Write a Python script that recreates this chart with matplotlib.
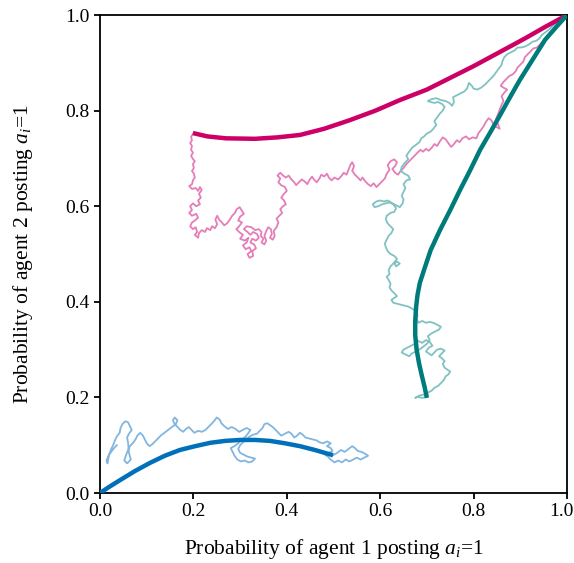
import matplotlib
matplotlib.use("Agg")
import matplotlib.pyplot as plt
import matplotlib.transforms as mtransforms
import numpy as np

plt.rcParams['font.family'] = ['Liberation Serif', 'DejaVu Serif']
plt.rcParams['mathtext.fontset'] = 'custom'
plt.rcParams['mathtext.rm'] = 'Liberation Serif'
plt.rcParams['mathtext.it'] = 'Liberation Serif:italic'

# mean-field trajectories (thick curves)
mean_pink_x = [0.199, 0.230, 0.270, 0.332, 0.380, 0.428, 0.480, 0.535, 0.590, 0.642, 0.700, 0.749, 0.800, 0.857, 0.910, 0.953, 1.0]
mean_pink_y = [0.753, 0.746, 0.742, 0.741, 0.744, 0.749, 0.762, 0.780, 0.800, 0.822, 0.844, 0.868, 0.893, 0.923, 0.951, 0.975, 1.0]

mean_teal_x = [0.700, 0.695, 0.689, 0.683, 0.678, 0.675, 0.675, 0.677, 0.680, 0.685, 0.694, 0.708, 0.728, 0.750, 0.771, 0.793, 0.814, 0.836, 0.857, 0.878, 0.899, 0.926, 0.953, 0.977, 1.0]
mean_teal_y = [0.199, 0.222, 0.246, 0.272, 0.300, 0.330, 0.360, 0.390, 0.415, 0.440, 0.467, 0.508, 0.550, 0.592, 0.634, 0.676, 0.718, 0.755, 0.791, 0.828, 0.864, 0.906, 0.948, 0.975, 1.0]

mean_blue_x = [0.499, 0.460, 0.428, 0.396, 0.364, 0.332, 0.300, 0.268, 0.236, 0.204, 0.171, 0.139, 0.107, 0.075, 0.043, 0.020, 0.0]
mean_blue_y = [0.079, 0.090, 0.098, 0.104, 0.109, 0.111, 0.111, 0.109, 0.105, 0.098, 0.090, 0.078, 0.063, 0.046, 0.027, 0.013, 0.0]

# stochastic runs (thin lines), as (x, y) pairs
walk_pink = [
    (0.199, 0.751), (0.195, 0.745), (0.197, 0.738), (0.193, 0.732), (0.197, 0.726), (0.195, 0.718),
    (0.199, 0.712), (0.195, 0.705), (0.199, 0.699), (0.203, 0.694), (0.199, 0.688), (0.201, 0.680),
    (0.197, 0.674), (0.201, 0.668), (0.203, 0.660), (0.199, 0.654), (0.197, 0.646), (0.191, 0.642),
    (0.197, 0.636), (0.205, 0.638), (0.210, 0.632), (0.214, 0.640), (0.218, 0.634), (0.212, 0.626),
    (0.216, 0.618), (0.210, 0.612), (0.214, 0.604), (0.206, 0.600), (0.199, 0.606), (0.193, 0.600),
    (0.197, 0.592), (0.191, 0.586), (0.197, 0.580), (0.206, 0.584), (0.210, 0.576), (0.203, 0.570),
    (0.197, 0.566), (0.193, 0.558), (0.199, 0.552), (0.205, 0.556), (0.208, 0.546), (0.203, 0.540),
    (0.210, 0.534), (0.212, 0.544), (0.218, 0.550), (0.225, 0.546), (0.229, 0.554), (0.236, 0.550),
    (0.240, 0.558), (0.246, 0.554), (0.251, 0.562), (0.247, 0.572), (0.251, 0.580), (0.255, 0.572),
    (0.261, 0.566), (0.266, 0.560), (0.272, 0.564), (0.278, 0.572), (0.283, 0.580), (0.289, 0.586),
    (0.293, 0.594), (0.299, 0.598), (0.304, 0.590), (0.308, 0.584), (0.300, 0.578), (0.296, 0.570),
    (0.304, 0.566), (0.298, 0.558), (0.292, 0.552), (0.298, 0.546), (0.306, 0.540), (0.300, 0.532),
    (0.310, 0.528), (0.318, 0.534), (0.314, 0.524), (0.306, 0.518), (0.312, 0.510), (0.320, 0.514),
    (0.324, 0.506), (0.316, 0.500), (0.320, 0.492), (0.328, 0.496), (0.326, 0.506), (0.334, 0.512),
    (0.330, 0.520), (0.322, 0.524), (0.326, 0.532), (0.334, 0.528), (0.340, 0.534), (0.336, 0.542),
    (0.328, 0.546), (0.322, 0.540), (0.316, 0.546), (0.308, 0.552), (0.314, 0.558), (0.324, 0.556),
    (0.332, 0.550), (0.340, 0.552), (0.346, 0.546), (0.344, 0.538), (0.350, 0.532), (0.346, 0.524),
    (0.352, 0.520), (0.356, 0.528), (0.352, 0.538), (0.356, 0.548), (0.360, 0.556), (0.366, 0.552),
    (0.368, 0.542), (0.364, 0.534), (0.370, 0.530), (0.374, 0.538), (0.372, 0.548), (0.378, 0.556),
    (0.382, 0.566), (0.378, 0.574), (0.384, 0.580), (0.390, 0.586), (0.386, 0.594), (0.392, 0.600),
    (0.398, 0.604), (0.394, 0.612), (0.388, 0.618), (0.394, 0.626), (0.400, 0.632), (0.396, 0.640),
    (0.388, 0.644), (0.382, 0.650), (0.386, 0.658), (0.380, 0.664), (0.386, 0.670), (0.392, 0.664),
    (0.398, 0.660), (0.404, 0.664), (0.410, 0.656), (0.416, 0.650), (0.420, 0.644), (0.426, 0.650),
    (0.432, 0.656), (0.438, 0.652), (0.444, 0.646), (0.448, 0.654), (0.454, 0.662), (0.458, 0.656),
    (0.464, 0.650), (0.470, 0.658), (0.474, 0.666), (0.480, 0.662), (0.486, 0.668), (0.490, 0.660),
    (0.496, 0.654), (0.502, 0.660), (0.510, 0.656), (0.516, 0.662), (0.522, 0.670), (0.528, 0.666),
    (0.532, 0.676), (0.536, 0.686), (0.540, 0.692), (0.544, 0.684), (0.540, 0.674), (0.546, 0.666),
    (0.552, 0.660), (0.558, 0.654), (0.562, 0.660), (0.568, 0.652), (0.574, 0.646), (0.580, 0.642),
    (0.586, 0.648), (0.592, 0.640), (0.598, 0.646), (0.604, 0.652), (0.610, 0.658), (0.614, 0.668),
    (0.620, 0.676), (0.616, 0.686), (0.622, 0.694), (0.630, 0.698), (0.636, 0.692), (0.632, 0.684),
    (0.626, 0.678), (0.632, 0.670), (0.638, 0.666), (0.644, 0.674), (0.650, 0.680), (0.656, 0.688),
    (0.662, 0.694), (0.668, 0.700), (0.674, 0.706), (0.680, 0.712), (0.686, 0.718), (0.692, 0.714),
    (0.698, 0.720), (0.704, 0.716), (0.710, 0.722), (0.716, 0.730), (0.722, 0.726), (0.728, 0.736),
    (0.734, 0.744), (0.740, 0.740), (0.746, 0.732), (0.752, 0.724), (0.758, 0.730), (0.764, 0.738),
    (0.770, 0.734), (0.776, 0.742), (0.784, 0.746), (0.790, 0.740), (0.798, 0.744), (0.806, 0.742),
    (0.810, 0.752), (0.816, 0.760), (0.822, 0.768), (0.826, 0.776), (0.832, 0.784), (0.838, 0.780),
    (0.842, 0.772), (0.848, 0.766), (0.856, 0.762), (0.852, 0.772), (0.848, 0.782), (0.852, 0.792),
    (0.856, 0.802), (0.860, 0.812), (0.864, 0.820), (0.860, 0.830), (0.866, 0.838), (0.872, 0.844),
    (0.864, 0.848), (0.858, 0.852), (0.864, 0.860), (0.870, 0.866), (0.876, 0.872), (0.884, 0.876),
    (0.890, 0.882), (0.894, 0.890), (0.900, 0.896), (0.906, 0.902), (0.910, 0.912), (0.916, 0.918),
    (0.922, 0.924), (0.928, 0.930), (0.936, 0.932), (0.942, 0.938), (0.948, 0.944), (0.956, 0.950),
    (0.962, 0.958), (0.968, 0.966), (0.976, 0.972), (0.984, 0.982), (0.992, 0.990), (1.0, 1.0),
]

walk_teal = [
    (0.700, 0.201), (0.690, 0.199), (0.680, 0.201), (0.675, 0.199), (0.684, 0.204), (0.694, 0.206),
    (0.702, 0.210), (0.710, 0.214), (0.716, 0.220), (0.724, 0.224), (0.730, 0.230), (0.736, 0.236),
    (0.740, 0.244), (0.746, 0.248), (0.750, 0.254), (0.744, 0.258), (0.738, 0.262), (0.734, 0.270),
    (0.738, 0.276), (0.732, 0.282), (0.726, 0.286), (0.732, 0.292), (0.738, 0.298), (0.730, 0.302),
    (0.722, 0.300), (0.716, 0.294), (0.710, 0.288), (0.704, 0.292), (0.698, 0.296), (0.704, 0.304),
    (0.712, 0.308), (0.706, 0.316), (0.698, 0.320), (0.690, 0.314), (0.682, 0.318), (0.674, 0.312),
    (0.666, 0.308), (0.658, 0.304), (0.650, 0.300), (0.646, 0.294), (0.654, 0.290), (0.662, 0.286),
    (0.668, 0.292), (0.676, 0.296), (0.684, 0.300), (0.692, 0.306), (0.700, 0.312), (0.706, 0.320),
    (0.702, 0.328), (0.710, 0.334), (0.718, 0.338), (0.726, 0.342), (0.730, 0.348), (0.722, 0.352),
    (0.714, 0.356), (0.706, 0.358), (0.698, 0.356), (0.690, 0.360), (0.682, 0.356), (0.678, 0.364),
    (0.680, 0.372), (0.676, 0.380), (0.668, 0.386), (0.660, 0.390), (0.652, 0.392), (0.644, 0.394),
    (0.636, 0.396), (0.628, 0.398), (0.624, 0.404), (0.630, 0.408), (0.636, 0.412), (0.630, 0.418),
    (0.624, 0.424), (0.620, 0.430), (0.622, 0.438), (0.618, 0.446), (0.614, 0.452), (0.620, 0.458),
    (0.618, 0.466), (0.622, 0.474), (0.628, 0.480), (0.636, 0.484), (0.642, 0.480), (0.634, 0.474),
    (0.630, 0.482), (0.636, 0.490), (0.630, 0.496), (0.622, 0.500), (0.616, 0.506), (0.612, 0.514),
    (0.610, 0.522), (0.614, 0.530), (0.618, 0.538), (0.624, 0.544), (0.628, 0.552), (0.622, 0.558),
    (0.616, 0.564), (0.612, 0.572), (0.614, 0.580), (0.622, 0.586), (0.630, 0.588), (0.634, 0.596),
    (0.628, 0.604), (0.620, 0.608), (0.612, 0.606), (0.604, 0.604), (0.596, 0.600), (0.588, 0.598),
    (0.584, 0.604), (0.592, 0.610), (0.600, 0.612), (0.608, 0.610), (0.616, 0.612), (0.626, 0.606),
    (0.634, 0.602), (0.642, 0.598), (0.648, 0.606), (0.650, 0.614), (0.646, 0.622), (0.650, 0.630),
    (0.654, 0.638), (0.650, 0.646), (0.656, 0.654), (0.664, 0.656), (0.660, 0.664), (0.652, 0.668),
    (0.644, 0.674), (0.646, 0.682), (0.652, 0.690), (0.660, 0.698), (0.656, 0.706), (0.662, 0.714),
    (0.668, 0.722), (0.676, 0.728), (0.684, 0.734), (0.688, 0.742), (0.694, 0.746), (0.700, 0.752),
    (0.708, 0.756), (0.714, 0.762), (0.720, 0.770), (0.716, 0.778), (0.722, 0.786), (0.728, 0.794),
    (0.734, 0.800), (0.738, 0.808), (0.732, 0.814), (0.724, 0.818), (0.716, 0.816), (0.708, 0.818),
    (0.702, 0.820), (0.710, 0.824), (0.720, 0.826), (0.730, 0.822), (0.740, 0.820), (0.748, 0.816),
    (0.754, 0.810), (0.758, 0.818), (0.756, 0.828), (0.764, 0.832), (0.772, 0.836), (0.780, 0.840),
    (0.786, 0.846), (0.790, 0.858), (0.796, 0.852), (0.800, 0.846), (0.808, 0.844), (0.816, 0.848),
    (0.824, 0.854), (0.830, 0.860), (0.836, 0.866), (0.842, 0.872), (0.848, 0.880), (0.854, 0.888),
    (0.860, 0.896), (0.862, 0.904), (0.866, 0.912), (0.872, 0.918), (0.880, 0.922), (0.888, 0.926),
    (0.894, 0.932), (0.902, 0.932), (0.910, 0.934), (0.918, 0.938), (0.926, 0.944), (0.934, 0.946),
    (0.940, 0.950), (0.946, 0.958), (0.954, 0.964), (0.962, 0.970), (0.970, 0.978), (0.978, 0.984),
    (0.986, 0.990), (0.994, 0.996), (1.0, 1.0),
]

walk_blue = [
    (0.499, 0.079), (0.508, 0.084), (0.516, 0.090), (0.524, 0.086), (0.532, 0.092), (0.540, 0.098),
    (0.546, 0.094), (0.552, 0.088), (0.560, 0.086), (0.568, 0.082), (0.574, 0.078), (0.566, 0.074),
    (0.558, 0.070), (0.550, 0.074), (0.542, 0.070), (0.534, 0.066), (0.526, 0.070), (0.518, 0.064),
    (0.510, 0.068), (0.502, 0.064), (0.494, 0.070), (0.488, 0.076), (0.482, 0.080), (0.490, 0.084),
    (0.498, 0.088), (0.494, 0.094), (0.486, 0.098), (0.494, 0.104), (0.486, 0.108), (0.478, 0.104),
    (0.470, 0.106), (0.464, 0.110), (0.456, 0.112), (0.448, 0.114), (0.440, 0.116), (0.434, 0.122),
    (0.428, 0.126), (0.422, 0.120), (0.416, 0.116), (0.410, 0.124), (0.404, 0.128), (0.396, 0.124),
    (0.388, 0.120), (0.382, 0.126), (0.376, 0.132), (0.370, 0.138), (0.364, 0.142), (0.358, 0.146),
    (0.352, 0.144), (0.348, 0.136), (0.342, 0.130), (0.336, 0.124), (0.328, 0.122), (0.320, 0.118),
    (0.314, 0.112), (0.306, 0.106), (0.300, 0.100), (0.296, 0.092), (0.300, 0.084), (0.308, 0.080),
    (0.316, 0.076), (0.324, 0.074), (0.332, 0.072), (0.326, 0.066), (0.318, 0.064), (0.310, 0.068),
    (0.302, 0.066), (0.294, 0.070), (0.288, 0.078), (0.284, 0.086), (0.280, 0.094), (0.288, 0.098),
    (0.296, 0.104), (0.304, 0.112), (0.312, 0.118), (0.318, 0.126), (0.322, 0.132), (0.314, 0.136),
    (0.306, 0.132), (0.298, 0.128), (0.290, 0.134), (0.282, 0.138), (0.274, 0.134), (0.266, 0.140),
    (0.260, 0.146), (0.256, 0.154), (0.250, 0.158), (0.244, 0.150), (0.238, 0.144), (0.232, 0.138),
    (0.226, 0.132), (0.218, 0.128), (0.210, 0.130), (0.202, 0.126), (0.196, 0.132), (0.190, 0.138),
    (0.184, 0.134), (0.178, 0.128), (0.172, 0.132), (0.166, 0.138), (0.160, 0.144), (0.156, 0.152),
    (0.160, 0.158), (0.166, 0.152), (0.162, 0.144), (0.154, 0.138), (0.146, 0.132), (0.138, 0.126),
    (0.130, 0.120), (0.124, 0.114), (0.118, 0.108), (0.112, 0.102), (0.106, 0.098), (0.100, 0.104),
    (0.096, 0.112), (0.092, 0.120), (0.086, 0.126), (0.080, 0.120), (0.076, 0.112), (0.070, 0.104),
    (0.064, 0.098), (0.056, 0.080), (0.052, 0.068), (0.058, 0.062), (0.066, 0.070), (0.062, 0.084),
    (0.060, 0.106), (0.058, 0.116), (0.062, 0.124), (0.068, 0.132), (0.064, 0.140), (0.060, 0.148),
    (0.054, 0.150), (0.048, 0.144), (0.044, 0.136), (0.042, 0.126), (0.036, 0.118), (0.032, 0.110),
    (0.028, 0.100), (0.024, 0.092), (0.020, 0.082), (0.018, 0.072), (0.016, 0.062), (0.014, 0.068),
    (0.018, 0.078), (0.024, 0.086), (0.030, 0.094), (0.036, 0.100),
]

ticks = [0.0, 0.2, 0.4, 0.6, 0.8, 1.0]
xlabel = r'Probability of agent 1 posting $a_i$=1'
ylabel = r'Probability of agent 2 posting $a_i$=1'

fig = plt.figure(figsize=(5.74, 5.63), dpi=100)
ax = fig.add_axes([100 / 574, 70 / 563, 467 / 574, 478 / 563])

# light stochastic runs first, mean paths on top
for walk, col in [(walk_pink, '#e57db8'), (walk_teal, '#80c2c2'), (walk_blue, '#82b6e0')]:
    w = np.array(walk)
    ax.plot(w[:, 0], w[:, 1], color=col, lw=1.3, zorder=2)

ax.plot(mean_pink_x, mean_pink_y, color='#cc0066', lw=3.2, solid_capstyle='butt', zorder=3)
ax.plot(mean_teal_x, mean_teal_y, color='#007b7b', lw=3.2, solid_capstyle='butt', zorder=3)
ax.plot(mean_blue_x, mean_blue_y, color='#0070b8', lw=3.2, solid_capstyle='butt', zorder=3)

ax.set_xlim(0, 1)
ax.set_ylim(0, 1)
ax.set_xticks(ticks)
ax.set_yticks(ticks)
ax.set_xticklabels([f'{t:.1f}' for t in ticks])
ax.set_yticklabels([f'{t:.1f}' for t in ticks])
ax.tick_params(direction='out', length=4.5, width=1.3, labelsize=14, colors='black', pad=3)
for s in ax.spines.values():
    s.set_linewidth(1.3)

# nudge the last x tick label so it stays inside the canvas
last = ax.get_xticklabels()[-1]
last.set_transform(last.get_transform() + mtransforms.ScaledTranslation(-6 / 100, 0, fig.dpi_scale_trans))

ax.set_xlabel(xlabel, fontsize=15.5, labelpad=12)
ax.set_ylabel(ylabel, fontsize=15.5, labelpad=22)

fig.savefig('out.png', dpi=100)
